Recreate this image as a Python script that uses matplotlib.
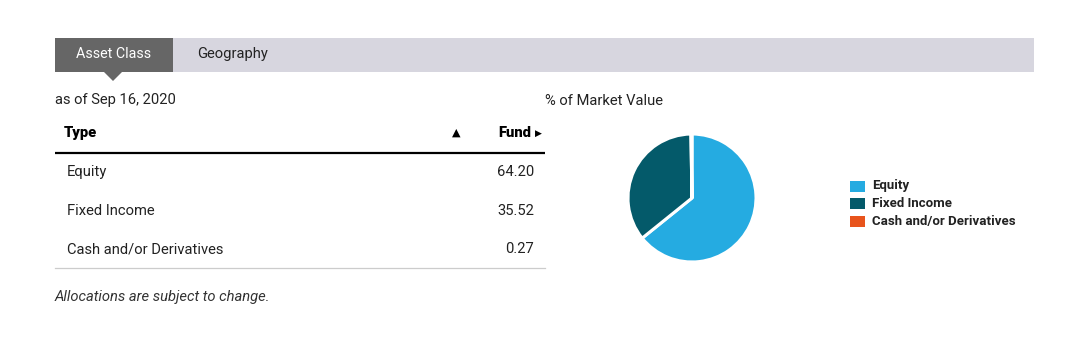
"""
Asset class breakdown panel — table of fund weights on the left,
pie of % market value on the right. Everything laid out in pixel coords
on one full-figure axes so it lines up with the screenshot.
"""

import matplotlib
matplotlib.use("Agg")
import matplotlib.pyplot as plt
from matplotlib.patches import Rectangle, Polygon

W, H = 1070, 348
FONT = "Roboto"
FS = 10.6  # body text size, matches the page's ~14px font

TABS = ["Asset Class", "Geography"]
AS_OF = "as of Sep 16, 2020"
TYPES = ["Equity", "Fixed Income", "Cash and/or Derivatives"]
FUND_VALUES = [64.20, 35.52, 0.27]
SLICE_COLORS = ["#25abe1", "#045a6a", "#e8541c"]
NOTE = "Allocations are subject to change."


def draw_tabs(ax):
    ax.add_patch(Rectangle((55, 38), 979, 34, color="#d7d6df", lw=0))
    ax.add_patch(Rectangle((55, 38), 118, 34, color="#666666", lw=0))
    ax.add_patch(Polygon([(104, 72), (122, 72), (113, 81)], closed=True, color="#666666", lw=0))
    ax.text(113.5, 54, TABS[0], color="white", fontsize=FS - 0.3, family=FONT, ha="center", va="center")
    ax.text(197, 54, TABS[1], color="#222222", fontsize=FS, family=FONT, ha="left", va="center")


def draw_table(ax):
    ax.text(55, 100, AS_OF, fontsize=FS, family=FONT, color="#222222", va="center")
    ax.text(64, 133, "Type", fontsize=FS, family=FONT, weight="black", color="black", va="center")
    ax.text(456, 133, "\u25B2", fontsize=8, family="DejaVu Sans", color="black", va="center", ha="center")
    ax.text(531, 133, "Fund", fontsize=FS, family=FONT, weight="black", color="black", va="center", ha="right")
    ax.text(538, 133, "\u25B6", fontsize=6.5, family="DejaVu Sans", color="black", va="center", ha="center")
    ax.plot([55, 545], [153, 153], color="black", lw=1.6, solid_capstyle="butt")

    row_y = [172, 211, 249]
    for name, val, y in zip(TYPES, FUND_VALUES, row_y):
        ax.text(67, y, name, fontsize=FS, family=FONT, color="#222222", va="center")
        ax.text(534, y, f"{val:.2f}", fontsize=FS, family=FONT, color="#222222", va="center", ha="right")
    ax.plot([55, 545], [268, 268], color="#cccccc", lw=0.9)

    ax.text(55, 297, NOTE, fontsize=FS, family=FONT, style="italic", color="#333333", va="center")


def draw_pie(fig, ax):
    ax.text(545, 101, "% of Market Value", fontsize=FS, family=FONT, color="#222222", va="center")

    cx, cy, r = 692, 198, 64
    pie_ax = fig.add_axes([(cx - r) / W, 1 - (cy + r) / H, 2 * r / W, 2 * r / H])
    pie_ax.pie(FUND_VALUES, colors=SLICE_COLORS, startangle=90, counterclock=False,
               wedgeprops={"edgecolor": "white", "linewidth": 2.2})
    pie_ax.set_xlim(-1, 1)
    pie_ax.set_ylim(-1, 1)
    pie_ax.set_aspect("auto")
    pie_ax.axis("off")

    # legend, drawn by hand so the swatches sit where the original ones are
    for i, (name, color) in enumerate(zip(TYPES, SLICE_COLORS)):
        y = 186 + i * 17.5
        ax.add_patch(Rectangle((850, y - 5.5), 15, 11, color=color, lw=0))
        ax.text(872, y, name, fontsize=9.5, family=FONT, weight="bold", color="#222222", va="center")


def main():
    fig = plt.figure(figsize=(W / 100, H / 100), dpi=100)
    fig.patch.set_facecolor("white")
    ax = fig.add_axes([0, 0, 1, 1])
    ax.set_xlim(0, W)
    ax.set_ylim(H, 0)
    ax.axis("off")

    draw_tabs(ax)
    draw_table(ax)
    draw_pie(fig, ax)

    fig.savefig("out.png", dpi=100, facecolor="white")
    plt.close(fig)


if __name__ == "__main__":
    main()
